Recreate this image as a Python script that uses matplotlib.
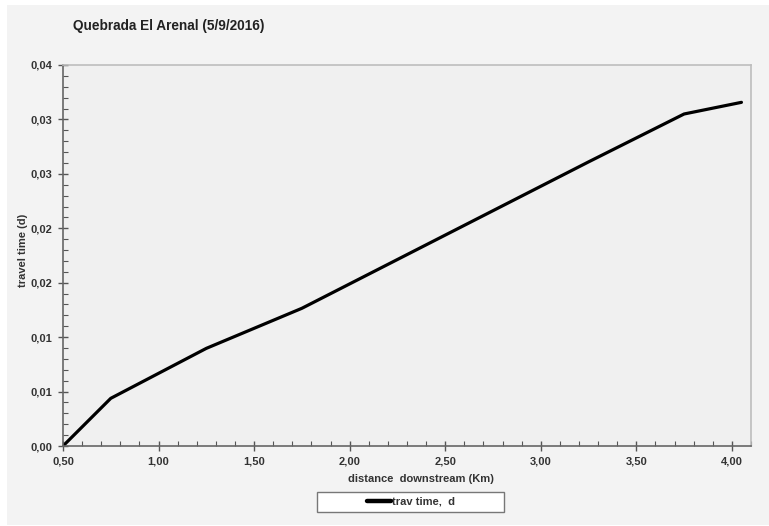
import matplotlib
matplotlib.use('Agg')
import matplotlib.pyplot as plt
from matplotlib.patches import Rectangle
from matplotlib.ticker import MultipleLocator

# data
DIST_KM = [0.50, 0.75, 1.25, 1.75, 3.25, 3.75, 4.05]
TRAV_TIME_D = [0.0, 0.00438, 0.00897, 0.01265, 0.0261, 0.0305, 0.03157]

X_TICKS = [0.5, 1.0, 1.5, 2.0, 2.5, 3.0, 3.5, 4.0]
X_TICK_LABELS = ['0,50', '1,00', '1,50', '2,00', '2,50', '3,00', '3,50', '4,00']
Y_TICKS = [0.0, 0.005, 0.010, 0.015, 0.020, 0.025, 0.030, 0.035]
Y_TICK_LABELS = ['0,00', '0,01', '0,01', '0,02', '0,02', '0,03', '0,03', '0,04']

TITLE = 'Quebrada El Arenal (5/9/2016)'
SERIES_LABEL = 'trav time,  d'

plt.rcParams['font.family'] = ['Liberation Sans', 'DejaVu Sans']
plt.rcParams['font.weight'] = 'bold'

W, H = 769, 526
fig = plt.figure(figsize=(W / 100, H / 100), dpi=100, facecolor='white')
fig.patches.append(Rectangle((7 / W, 1 / H), 1 - 7 / W, 1 - 6 / H,
                             transform=fig.transFigure, facecolor='#f3f3f3',
                             edgecolor='none', zorder=-10))

ax = fig.add_axes([63 / W, 1 - 446 / H, (751 - 63) / W, (446 - 65) / H])
ax.set_facecolor('#f0f0f0')

ax.plot(DIST_KM, TRAV_TIME_D, color='black', linewidth=2.3,
        solid_capstyle='round', label=SERIES_LABEL)

ax.set_xlim(0.5, 4.1)
ax.set_ylim(0.0, 0.035)
ax.set_xticks(X_TICKS)
ax.set_xticklabels(X_TICK_LABELS)
ax.set_yticks(Y_TICKS)
ax.set_yticklabels(Y_TICK_LABELS)
ax.xaxis.set_minor_locator(MultipleLocator(0.1))
ax.yaxis.set_minor_locator(MultipleLocator(0.001))

ax.tick_params(which='major', direction='inout', length=7, width=1.0,
               color='#555555', labelsize=8, pad=4)
ax.tick_params(which='minor', direction='in', length=3.5, width=0.8,
               color='#555555')
for lab in ax.get_xticklabels() + ax.get_yticklabels():
    lab.set_fontweight('bold')
    lab.set_color('#333333')

for side in ['left', 'bottom']:
    ax.spines[side].set_color('#666666')
    ax.spines[side].set_linewidth(1.2)
for side in ['top', 'right']:
    ax.spines[side].set_color('#bdbdbd')
    ax.spines[side].set_linewidth(1.2)

ax.set_xlabel('distance  downstream (Km)', fontsize=8, fontweight='bold',
              color='#333333')
ax.set_ylabel('travel time (d)', fontsize=8, fontweight='bold',
              color='#333333')
ax.xaxis.set_label_coords((421 - 63) / (751 - 63), -(479 - 446) / (446 - 65))
ax.xaxis.label.set_va('center')
ax.yaxis.set_label_coords(-(63 - 23) / (751 - 63), (446 - 250) / (446 - 65))
ax.yaxis.label.set_va('center')

fig.text(73 / W, 1 - 26 / H, TITLE, fontsize=9.8, fontweight='bold',
         color='#222222', va='center', ha='left')

# legend box is wider than its contents in the reference
fig.patches.append(Rectangle((317 / W, 1 - 512 / H), 187 / W, 20 / H,
                             transform=fig.transFigure, facecolor='white',
                             edgecolor='#777777', linewidth=1.0, zorder=1))
leg = fig.legend(loc='center', bbox_to_anchor=(411 / W, 1 - 502 / H),
                 frameon=False, fontsize=8, handlelength=2.2,
                 borderpad=0.2, handletextpad=0.1)
for line in leg.get_lines():
    line.set_linewidth(3.2)
for t in leg.get_texts():
    t.set_fontweight('bold')
    t.set_color('#333333')

fig.savefig('out.png', dpi=100, facecolor=fig.get_facecolor())
